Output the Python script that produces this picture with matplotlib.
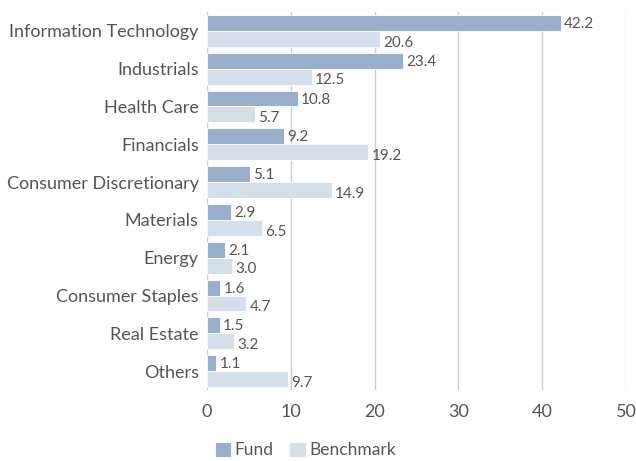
import numpy as np
import matplotlib.pyplot as plt

sectors = ["Information Technology", "Industrials", "Health Care", "Financials",
           "Consumer Discretionary", "Materials", "Energy", "Consumer Staples",
           "Real Estate", "Others"]
fund = [42.2, 23.4, 10.8, 9.2, 5.1, 2.9, 2.1, 1.6, 1.5, 1.1]
benchmark = [20.6, 12.5, 5.7, 19.2, 14.9, 6.5, 3.0, 4.7, 3.2, 9.7]

plt.rcParams['font.family'] = ['Lato', 'DejaVu Sans']
text_col = "#555555"
fund_col = "#9AAFCB"
bench_col = "#D5DFEA"

fig = plt.figure(figsize=(6.36, 4.61), dpi=100)
ax = fig.add_axes([0.3255, 0.154, 0.659, 0.82])

y = np.arange(len(sectors))
h = 0.42
ax.barh(y - h / 2, fund, height=h, color=fund_col, edgecolor="white", linewidth=0.6, label="Fund", zorder=3)
ax.barh(y + h / 2, benchmark, height=h, color=bench_col, edgecolor="white", linewidth=0.6, label="Benchmark", zorder=3)

for i in range(len(sectors)):
    ax.text(fund[i] + 0.4, y[i] - h / 2 + 0.03, f"{fund[i]:.1f}", va="center", ha="left",
            fontsize=11, color=text_col)
    ax.text(benchmark[i] + 0.4, y[i] + h / 2 + 0.1, f"{benchmark[i]:.1f}", va="center", ha="left",
            fontsize=11, color=text_col)

ax.set_xlim(0, 50)
ax.set_ylim(len(sectors) - 0.5, -0.5)
ax.set_yticks(y)
ax.set_yticklabels(sectors, fontsize=13, color=text_col)
ax.set_xticks(np.arange(0, 51, 10))
ax.tick_params(axis="x", labelsize=13, colors=text_col, length=0, pad=10)
ax.tick_params(axis="y", length=0, pad=6)
ax.grid(axis="x", color="#CCCCCC", linewidth=1, zorder=0)
ax.set_axisbelow(True)
for s in ax.spines.values():
    s.set_visible(False)

fig.legend(loc="lower left", bbox_to_anchor=(0.313, -0.028), ncol=2, frameon=False,
           fontsize=12.5, labelcolor=text_col, handlelength=0.95, handleheight=0.95,
           handletextpad=0.2, columnspacing=0.9)

fig.savefig("out.png", dpi=100)
